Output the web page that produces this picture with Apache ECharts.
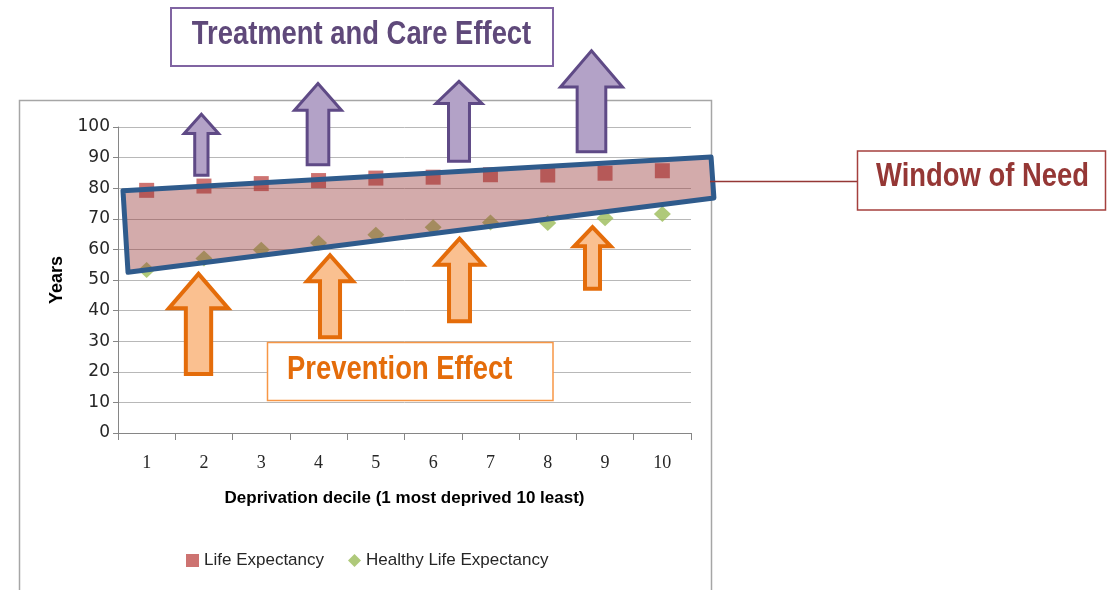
<!DOCTYPE html>
<html>
<head>
<meta charset="utf-8">
<script src="https://cdn.jsdelivr.net/npm/echarts@6/dist/echarts.min.js"></script>
<style>
html,body{margin:0;padding:0;background:#fff;}
#chart{width:1108px;height:590px;}
</style>
</head>
<body>
<div id="chart"></div>
<script>
// ---- chart data ----
const deciles = ['1','2','3','4','5','6','7','8','9','10'];
const lifeExpectancy = [79.3, 80.7, 81.5, 82.5, 83.3, 83.6, 84.4, 84.3, 84.9, 85.7];
const healthyLifeExpectancy = [53.3, 57.0, 59.9, 62.1, 64.8, 67.2, 68.8, 68.6, 70.2, 71.6];
const yTicks = [0, 10, 20, 30, 40, 50, 60, 70, 80, 90, 100];

// ---- annotation geometry, in axis units (decile position, years) ----
const windowCorners = [[0.587, 79.2], [10.85, 90.2], [10.90, 76.8], [0.675, 52.5]];
// [centre, tip, headBase, bottom, headHalfWidth, shaftHalfWidth]
const treatmentArrows = [
  [1.955, 104.2, 97.9, 84.2, 0.300, 0.116],
  [3.990, 114.2, 105.5, 87.7, 0.410, 0.189],
  [6.451, 114.9, 107.7, 88.8, 0.401, 0.183],
  [8.763, 124.9, 113.1, 91.9, 0.541, 0.250]
];
const preventionArrows = [
  [1.905, 52.0, 40.8, 19.3, 0.517, 0.221],
  [4.200, 58.1, 49.6, 31.3, 0.401, 0.175],
  [6.460, 63.5, 55.0, 36.5, 0.410, 0.183],
  [8.781, 67.3, 61.0, 47.1, 0.319, 0.131]
];

const chart = echarts.init(document.getElementById('chart'), null, {renderer: 'canvas'});

function arrowRenderer(fill, stroke, lw) {
  return function (params, api) {
    const xc = api.value(0), tip = api.value(1), base = api.value(2), bot = api.value(3);
    const hw = api.value(4), sw = api.value(5);
    const pts = [[xc, tip], [xc + hw, base], [xc + sw, base], [xc + sw, bot],
                 [xc - sw, bot], [xc - sw, base], [xc - hw, base]].map(p => api.coord(p));
    return {type: 'polygon', shape: {points: pts},
            style: {fill: fill, stroke: stroke, lineWidth: lw, lineJoin: 'miter'}};
  };
}

const option = {
  animation: false,
  backgroundColor: '#fff',
  grid: {left: 118, top: 127, width: 573, height: 306, containLabel: false},
  legend: {
    data: [
      {name: 'Life Expectancy', icon: 'rect'},
      {name: 'Healthy Life Expectancy', icon: 'diamond'}
    ],
    left: 181, top: 547, itemWidth: 13, itemHeight: 13, itemGap: 24,
    textStyle: {fontFamily: 'Liberation Sans', fontSize: 17, color: '#262626'}
  },
  xAxis: [
    {
      type: 'category', data: deciles, boundaryGap: true,
      name: 'Deprivation decile (1 most deprived 10 least)',
      nameLocation: 'middle', nameGap: 57,
      nameTextStyle: {fontFamily: 'Liberation Sans', fontWeight: 'bold', fontSize: 17, color: '#000'},
      axisLine: {lineStyle: {color: '#868686', width: 1}},
      axisTick: {show: true, length: 7, inside: false, lineStyle: {color: '#868686'}},
      axisLabel: {margin: 21, fontFamily: 'Liberation Serif', fontSize: 18, color: '#262626'},
      splitLine: {show: false}
    },
    {type: 'value', min: 0.5, max: 10.5, show: false}
  ],
  yAxis: {
    type: 'value', min: yTicks[0], max: yTicks[yTicks.length - 1], interval: 10,
    name: 'Years', nameLocation: 'middle', nameRotate: 90, nameGap: 52,
    nameTextStyle: {fontFamily: 'Liberation Sans', fontWeight: 'bold', fontSize: 18, color: '#000'},
    axisLine: {show: true, lineStyle: {color: '#868686', width: 1}},
    axisTick: {show: true, length: 5, inside: false, lineStyle: {color: '#868686'}},
    axisLabel: {margin: 8, fontFamily: 'DejaVu Sans', fontSize: 17, color: '#262626'},
    splitLine: {show: true, lineStyle: {color: '#b8b8b8', width: 1}}
  },
  series: [
    {
      name: 'Life Expectancy', type: 'scatter', xAxisIndex: 0, yAxisIndex: 0,
      symbol: 'rect', symbolSize: 15, data: lifeExpectancy,
      itemStyle: {color: '#c0504d'}, z: 2
    },
    {
      name: 'Healthy Life Expectancy', type: 'scatter', xAxisIndex: 0, yAxisIndex: 0,
      symbol: 'diamond', symbolSize: [17, 16], data: healthyLifeExpectancy,
      itemStyle: {color: '#9bbb59'}, z: 2
    },
    {
      name: 'window', type: 'custom', xAxisIndex: 1, yAxisIndex: 0, clip: false, z: 3,
      data: [[windowCorners[0][0], windowCorners[0][1]]],
      renderItem: function (params, api) {
        const pts = windowCorners.map(p => api.coord(p));
        return {type: 'polygon', shape: {points: pts},
                style: {fill: 'rgba(150,55,55,0.42)', stroke: '#2f5b8c', lineWidth: 5, lineJoin: 'round'}};
      },
      silent: true
    },
    {
      name: 'treatment', type: 'custom', xAxisIndex: 1, yAxisIndex: 0, clip: false, z: 4,
      data: treatmentArrows, renderItem: arrowRenderer('#b3a2c7', '#5f4a86', 3), silent: true
    },
    {
      name: 'prevention', type: 'custom', xAxisIndex: 1, yAxisIndex: 0, clip: false, z: 4,
      data: preventionArrows, renderItem: arrowRenderer('#fac090', '#e46c0a', 4), silent: true
    }
  ],
  graphic: [
    {type: 'rect', z: -10, silent: true,
     shape: {x: 19.5, y: 100.5, width: 692, height: 520},
     style: {fill: 'none', stroke: '#a6a6a6', lineWidth: 1.5}},
    {type: 'line', z: 100, silent: true,
     shape: {x1: 710, y1: 181.5, x2: 857, y2: 181.5},
     style: {stroke: '#953735', lineWidth: 1.5}},
    {type: 'rect', z: 100, silent: true,
     shape: {x: 171, y: 8, width: 382, height: 58},
     style: {fill: '#fff', stroke: '#8064a2', lineWidth: 2}},
    {type: 'text', z: 101, silent: true, x: 361.5, y: 35, scaleX: 0.83,
     style: {text: 'Treatment and Care Effect', x: 0, y: 0, align: 'center', verticalAlign: 'middle',
             fontFamily: 'Liberation Sans', fontWeight: 'bold', fontSize: 33, fill: '#5f497a'}},
    {type: 'rect', z: 100, silent: true,
     shape: {x: 857.5, y: 151, width: 248, height: 59},
     style: {fill: '#fff', stroke: '#a5403e', lineWidth: 1.5}},
    {type: 'text', z: 101, silent: true, x: 982.5, y: 177, scaleX: 0.83,
     style: {text: 'Window of Need', x: 0, y: 0, align: 'center', verticalAlign: 'middle',
             fontFamily: 'Liberation Sans', fontWeight: 'bold', fontSize: 33, fill: '#953735'}},
    {type: 'rect', z: 100, silent: true,
     shape: {x: 267.5, y: 342.5, width: 285.5, height: 58},
     style: {fill: '#fff', stroke: '#f79646', lineWidth: 1.5}},
    {type: 'text', z: 101, silent: true, x: 399.7, y: 370, scaleX: 0.83,
     style: {text: 'Prevention Effect', x: 0, y: 0, align: 'center', verticalAlign: 'middle',
             fontFamily: 'Liberation Sans', fontWeight: 'bold', fontSize: 33, fill: '#e46c0a'}}
  ]
};
chart.setOption(option);
</script>
</body>
</html>
